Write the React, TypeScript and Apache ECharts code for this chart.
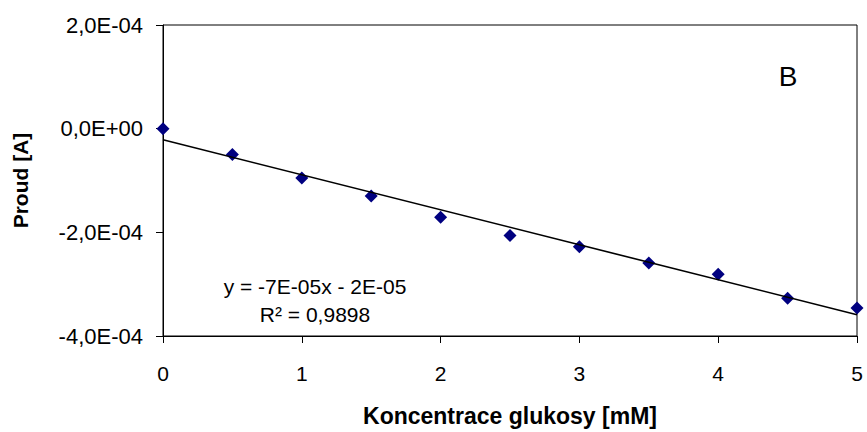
import React, { useEffect, useRef } from "react";
import * as echarts from "echarts";

const concentrations = [0, 0.5, 1, 1.5, 2, 2.5, 3, 3.5, 4, 4.5, 5];
const currents = [0, -4.98e-5, -9.5e-5, -1.3e-4, -1.71e-4, -2.06e-4, -2.28e-4, -2.59e-4, -2.81e-4, -3.27e-4, -3.46e-4];
const equationText = "y = -7E-05x - 2E-05";
const r2Text = "R² = 0,9898";
const panelLabel = "B";
const xTitle = "Koncentrace glukosy [mM]";
const yTitle = "Proud [A]";

function fmtExp(v: number): string {
  if (Math.abs(v) < 1e-12) v = 0;
  const s = v.toExponential(1);
  const [m, e] = s.split("e");
  const sign = e[0] === "-" ? "-" : "+";
  const n = Math.abs(parseInt(e, 10));
  return m.replace(".", ",") + "E" + sign + String(n).padStart(2, "0");
}

function regression(xs: number[], ys: number[]) {
  const n = xs.length;
  const mx = xs.reduce((a, b) => a + b, 0) / n;
  const my = ys.reduce((a, b) => a + b, 0) / n;
  let sxy = 0, sxx = 0;
  for (let i = 0; i < n; i++) {
    sxy += (xs[i] - mx) * (ys[i] - my);
    sxx += (xs[i] - mx) * (xs[i] - mx);
  }
  const slope = sxy / sxx;
  return { slope, intercept: my - slope * mx };
}

export default function App() {
  const ref = useRef<HTMLDivElement>(null);
  useEffect(() => {
    if (!ref.current) return;
    const chart = echarts.init(ref.current, null, { renderer: "svg" });
    const { slope, intercept } = regression(concentrations, currents);
    const x0 = concentrations[0];
    const x1 = concentrations[concentrations.length - 1];
    const font = "'Liberation Sans', Arial, sans-serif";
    chart.setOption({
      animation: false,
      backgroundColor: "#fff",
      grid: {
        left: 163,
        top: 25,
        right: 10,
        bottom: 91,
        show: true,
        borderColor: "#000",
        borderWidth: 1,
      },
      xAxis: {
        type: "value",
        min: 0,
        max: 5,
        interval: 1,
        name: xTitle,
        nameLocation: "middle",
        nameGap: 68,
        nameTextStyle: { fontFamily: font, fontSize: 23, fontWeight: "bold", color: "#000" },
        axisLine: { onZero: false, lineStyle: { color: "#000", width: 1 } },
        axisTick: { show: true, length: 7, lineStyle: { color: "#000" } },
        axisLabel: { fontFamily: font, fontSize: 21, color: "#000", margin: 27 },
        splitLine: { show: false },
      },
      yAxis: {
        type: "value",
        min: -4e-4,
        max: 2e-4,
        interval: 2e-4,
        name: yTitle,
        nameLocation: "middle",
        nameGap: 132,
        nameTextStyle: { fontFamily: font, fontSize: 21, fontWeight: "bold", color: "#000" },
        axisLine: { show: true, onZero: false, lineStyle: { color: "#000", width: 1 } },
        axisTick: { show: true, length: 7, lineStyle: { color: "#000" } },
        axisLabel: { fontFamily: font, fontSize: 22, color: "#000", margin: 20, formatter: fmtExp },
        splitLine: { show: false },
      },
      series: [
        {
          type: "scatter",
          data: concentrations.map((c, i) => [c, currents[i]]),
          symbol: "diamond",
          symbolSize: 13,
          itemStyle: { color: "#000080", opacity: 1 },
          z: 2,
        },
        {
          type: "line",
          data: [
            [x0, intercept + slope * x0],
            [x1, intercept + slope * x1],
          ],
          showSymbol: false,
          symbol: "none",
          lineStyle: { color: "#000", width: 1.6 },
          z: 3,
        },
      ],
      graphic: [
        {
          type: "text",
          x: 315,
          y: 286,
          style: {
            text: equationText,
            fontFamily: font,
            fontSize: 21,
            fill: "#000",
            align: "center",
            verticalAlign: "middle",
          },
        },
        {
          type: "text",
          x: 315,
          y: 314,
          style: {
            text: r2Text,
            fontFamily: font,
            fontSize: 21,
            fill: "#000",
            align: "center",
            verticalAlign: "middle",
          },
        },
        {
          type: "text",
          x: 788,
          y: 76,
          style: {
            text: panelLabel,
            fontFamily: font,
            fontSize: 28,
            fill: "#000",
            align: "center",
            verticalAlign: "middle",
          },
        },
      ],
    });
    return () => chart.dispose();
  }, []);
  return (
    <div
      ref={ref}
      style={{ position: "fixed", left: 0, top: 0, width: 867, height: 432 }}
    />
  );
}
